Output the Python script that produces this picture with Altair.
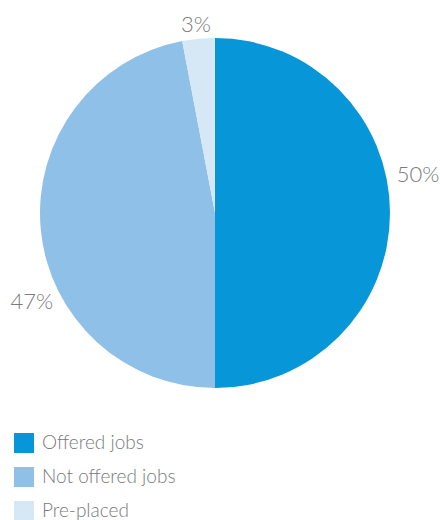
import altair as alt
import pandas as pd

categories = ["Offered jobs", "Not offered jobs", "Pre-placed"]
values = [50, 47, 3]
labels = ["50%", "47%", "3%"]
colors = ["#0796D8", "#8FC0E8", "#D6E7F5"]

df = pd.DataFrame({
    "category": categories,
    "value": values,
    "label": labels,
    "order": list(range(len(categories))),
})

base = alt.Chart(df).encode(
    theta=alt.Theta("value:Q", stack=True),
    order=alt.Order("order:Q"),
    x=alt.value(215),
    y=alt.value(213),
)

pie = base.mark_arc(radius=175, stroke=None).encode(
    color=alt.Color(
        "category:N",
        scale=alt.Scale(domain=categories, range=colors),
        sort=categories,
        legend=alt.Legend(
            title=None,
            orient="none",
            legendX=14,
            legendY=433,
            symbolType="square",
            symbolSize=400,
            symbolStrokeWidth=0,
            labelFontSize=19,
            labelFont="Lato",
            labelFontWeight=300,
            labelColor="#7a7a7a",
            labelOffset=8,
            rowPadding=14,
            symbolOpacity=1,
        ),
    )
)

text_style = dict(radius=203, fontSize=22, font="Lato", fontWeight=300, color="#7a7a7a",
                  align="center", baseline="middle")

lab_offered = base.mark_text(dy=-38, **text_style).encode(
    text="label:N",
    opacity=alt.condition(alt.datum.category == "Offered jobs", alt.value(1), alt.value(0)),
)
lab_not = base.mark_text(dx=19, dy=70, **text_style).encode(
    text="label:N",
    opacity=alt.condition(alt.datum.category == "Not offered jobs", alt.value(1), alt.value(0)),
)
lab_pre = base.mark_text(dy=14, **text_style).encode(
    text="label:N",
    opacity=alt.condition(alt.datum.category == "Pre-placed", alt.value(1), alt.value(0)),
)

chart = alt.layer(pie, lab_offered, lab_not, lab_pre).properties(
    width=440,
    height=520,
    autosize=alt.AutoSizeParams(type="none"),
    padding=0,
).configure_view(stroke=None)

chart.save("out.html", embed_options={"renderer": "svg", "actions": False})
